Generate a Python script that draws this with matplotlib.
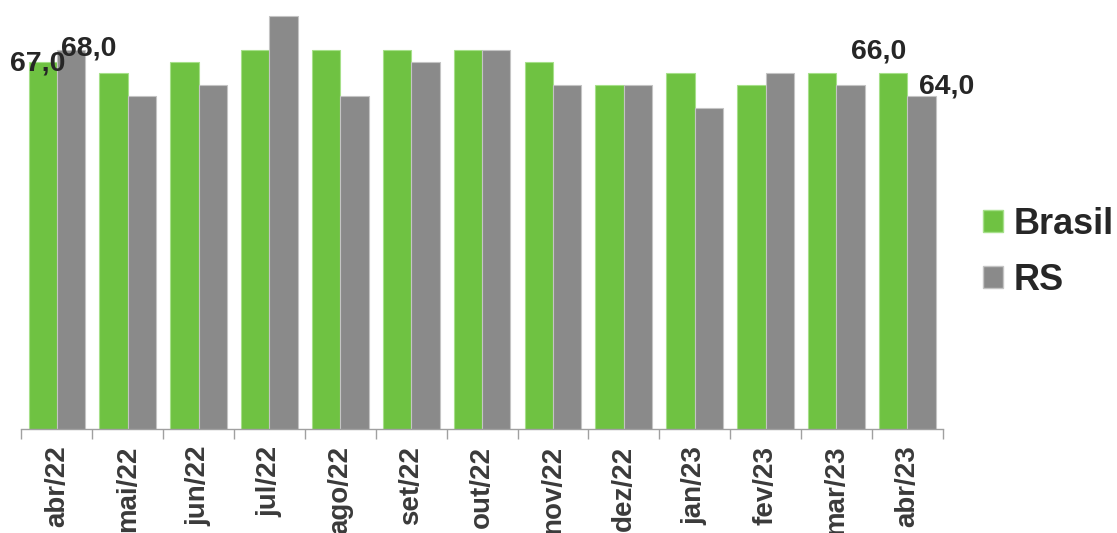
import matplotlib
matplotlib.use("Agg")
import matplotlib.pyplot as plt
import numpy as np
from matplotlib.patches import Patch

categories = ["abr/22", "mai/22", "jun/22", "jul/22", "ago/22", "set/22", "out/22",
              "nov/22", "dez/22", "jan/23", "fev/23", "mar/23", "abr/23"]
brasil = [67, 66, 67, 68, 68, 68, 68, 67, 65, 66, 65, 66, 66]
rs = [68, 64, 65, 71, 64, 67, 68, 65, 65, 63, 66, 65, 64]

plt.rcParams['font.family'] = ['Liberation Sans', 'DejaVu Sans']

GREEN = "#6fc242"
GRAY = "#8a8a8a"

fig = plt.figure(figsize=(11.17, 5.33), dpi=100)
ax = fig.add_axes([0.0192, 0.1951, 0.8248, 0.8049])

x = np.arange(len(categories))
w = 0.4
ax.bar(x - w/2, brasil, width=w, color=GREEN, edgecolor="#a6e08a", linewidth=0.8, label="Brasil")
ax.bar(x + w/2, rs, width=w, color=GRAY, edgecolor="#c4c4c4", linewidth=0.8, label="RS")

ax.set_xlim(-0.5, len(categories) - 0.5)
ax.set_ylim(35, 72.4)

for s in ["top", "right", "left"]:
    ax.spines[s].set_visible(False)
ax.spines["bottom"].set_color("#a0a0a0")
ax.spines["bottom"].set_linewidth(1.0)
ax.set_yticks([])

ax.set_xticks(x)
ax.set_xticklabels(categories, rotation=90, fontsize=20, fontweight="bold", color="#3a3a3a")
ax.tick_params(axis="x", which="major", length=0, pad=12)
ax.set_xticks(np.arange(-0.5, len(categories)), minor=True)
ax.tick_params(axis="x", which="minor", length=7, width=1.0, color="#a0a0a0")

lab_kw = dict(textcoords="offset pixels", ha="center", va="center",
              fontsize=20.5, fontweight="bold", color="#262626")
def fmt(v):
    return f"{v:.1f}".replace(".", ",")

ax.annotate(fmt(brasil[0]), (x[0] - w/2, brasil[0]), xytext=(-5, -2), **lab_kw)
ax.annotate(fmt(rs[0]), (x[0] + w/2, rs[0]), xytext=(18, 2), **lab_kw)
ax.annotate(fmt(brasil[-1]), (x[-1] - w/2, brasil[-1]), xytext=(-15, 22), **lab_kw)
ax.annotate(fmt(rs[-1]), (x[-1] + w/2, rs[-1]), xytext=(25, 10), **lab_kw)

handles = [Patch(facecolor=GREEN, edgecolor="#a6e08a"), Patch(facecolor=GRAY, edgecolor="#c4c4c4")]
leg = fig.legend(handles, ["Brasil", "RS"], loc="center left", bbox_to_anchor=(0.880, 0.527),
                 frameon=False, prop={"family": "Liberation Sans", "weight": "bold", "size": 26},
                 handlelength=0.55, handleheight=0.55, handletextpad=0.3, labelspacing=0.58,
                 borderpad=0, borderaxespad=0)
for t in leg.get_texts():
    t.set_color("#262626")

fig.savefig("out.png", dpi=100)
